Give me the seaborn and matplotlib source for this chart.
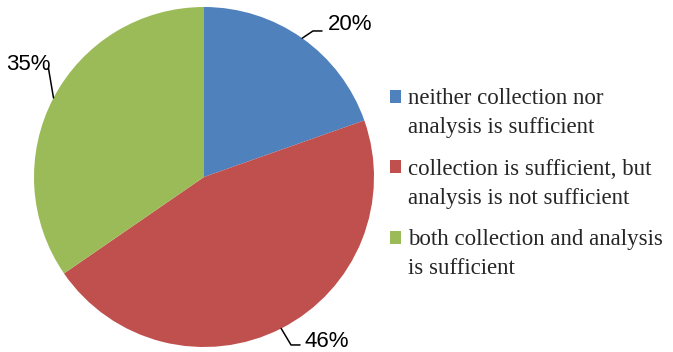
import numpy as np
import matplotlib
matplotlib.use("Agg")
import matplotlib.pyplot as plt
import seaborn as sns
from matplotlib.patches import Rectangle, Wedge
from matplotlib.legend_handler import HandlerPatch

# data
categories = ["neither collection nor\nanalysis is sufficient",
              "collection is sufficient, but\nanalysis is not sufficient",
              "both collection and analysis\nis sufficient"]
shares = [19.6, 45.8, 34.6]
pct_labels = ["20%", "46%", "35%"]

colors = ["#4F81BD", "#C0504D", "#9BBB59"]

sns.set_style("white")

fig = plt.figure(figsize=(6.73, 3.52), dpi=100)
ax = fig.add_axes([34 / 673, 5 / 352, 340 / 673, 340 / 352])
wedges, _ = ax.pie(shares, colors=colors, startangle=90, counterclock=False,
                   wedgeprops=dict(linewidth=0))
ax.set_xlim(-1, 1)
ax.set_ylim(-1, 1)
ax.set_aspect("equal")

# leader lines + percentage labels (knee, end, text pos, alignment)
label_layout = [
    ((0.641, 0.859), (0.694, 0.859), (0.728, 0.895), "left"),
    ((0.512, -0.988), (0.565, -0.988), (0.594, -0.965), "left"),
    (None, (-0.915, 0.640), (-0.905, 0.66), "right"),
]
for w, txt, (knee, end, tpos, ha) in zip(wedges, pct_labels, label_layout):
    mid = np.deg2rad((w.theta1 + w.theta2) / 2)
    pts = [(np.cos(mid), np.sin(mid))]
    if knee is not None:
        pts.append(knee)
    pts.append(end)
    xs, ys = zip(*pts)
    ax.plot(xs, ys, color="black", lw=1.1, clip_on=False)
    ax.text(tpos[0], tpos[1], txt, ha=ha, va="center", fontsize=16,
            family="Liberation Sans", color="black")


# small square marker aligned with the first line of each label
def square(legend, orig_handle, xdescent, ydescent, width, height, fontsize):
    return Rectangle((-xdescent, -ydescent + 12), width, height)


leg = fig.legend(wedges, categories, loc="upper left",
                 bbox_to_anchor=(390 / 673, 1 - 88 / 352),
                 frameon=False, borderpad=0, borderaxespad=0,
                 handlelength=0.5, handleheight=0.5, handletextpad=0.3,
                 labelspacing=0.9,
                 prop=dict(family="Liberation Serif", size=16.5),
                 handler_map={Wedge: HandlerPatch(patch_func=square)})
for t in leg.get_texts():
    t.set_linespacing(1.5)

fig.savefig("out.png", dpi=100)
